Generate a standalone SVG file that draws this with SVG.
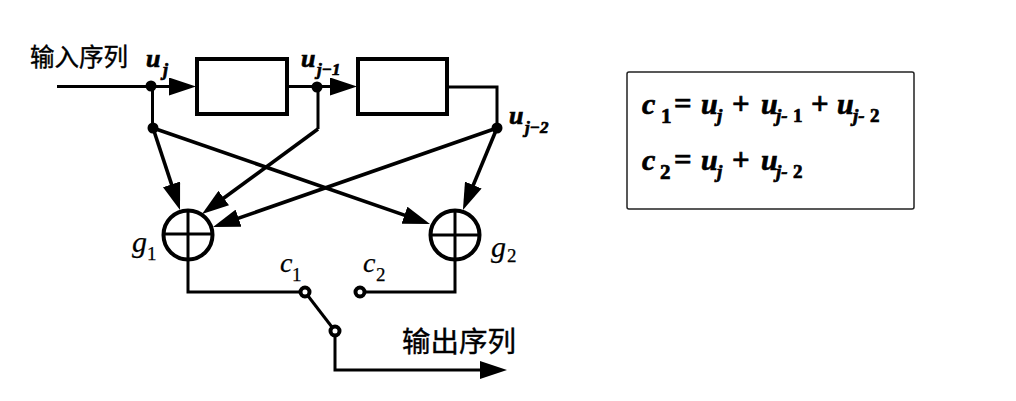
<svg xmlns="http://www.w3.org/2000/svg" width="1016" height="401" viewBox="0 0 1016 401">
<style>
.w{fill:none;stroke:#000;stroke-width:3;stroke-linejoin:miter}
.d{stroke-width:3.600}
.a{marker-end:url(#arrow)}
.box{fill:#fff;stroke:#000;stroke-width:4}
.sum{fill:#fff;stroke:#000;stroke-width:4}
.bar{stroke:#000;stroke-width:3;fill:none}
.dot{fill:#000}
.sw{fill:#fff;stroke:#000;stroke-width:4}
.zh{font-family:"Noto Sans CJK SC","Noto Sans",sans-serif;fill:#000;stroke:#000;stroke-width:.4}
.m{font-family:"Liberation Serif",serif;font-style:italic;fill:#000;stroke:#000;stroke-width:.25}
.b{font-weight:bold;stroke-width:.7}
.n{font-style:normal}
</style>
<defs>
<marker id="arrow" markerUnits="userSpaceOnUse" markerWidth="28" markerHeight="18" refX="19" refY="9" orient="auto">
<path d="M0 0L27 9L0 18z" fill="#000"/>
</marker>
</defs>
<rect width="1016" height="401" fill="#fff"/>
<g id="connectors">
<path class="w a" d="M57 86.500H188"/>
<path class="w a" d="M287 86.500H349"/>
<path class="w" d="M447 87H497V128"/>
<path class="w" d="M152.500 87V128"/>
<path class="w d a" d="M153 128L177.500 202.400"/>
<path class="w d a" d="M153 128L422.400 221.400"/>
<path class="w" d="M318 87V129"/>
<path class="w d a" d="M318 129L208.500 209.300"/>
<path class="w d a" d="M497 128L220.600 224.400"/>
<path class="w d a" d="M497 128L466 202.600"/>
<path class="w" d="M188 260V292H301"/>
<path class="w" d="M365 292H455V260"/>
<path class="w" d="M305 292L335 331"/>
<path class="w a" d="M335 335V370H499"/>
</g>
<g id="register1"><rect class="box" x="197" y="59" width="90" height="55"/></g>
<g id="register2"><rect class="box" x="358" y="59" width="89" height="55"/></g>
<g id="junctions">
<circle class="dot" cx="151" cy="86" r="5.500"/>
<circle class="dot" cx="153" cy="128" r="5.500"/>
<circle class="dot" cx="317" cy="87" r="5.500"/>
<circle class="dot" cx="497" cy="128" r="5.500"/>
</g>
<g id="g1-adder"><circle class="sum" cx="188" cy="235" r="24.500"/><path class="bar" d="M188 210V260"/><path class="bar" d="M163 234H213" stroke-width="3.500"/></g>
<g id="g2-adder"><circle class="sum" cx="455" cy="235" r="24.500"/><path class="bar" d="M455 210V260"/><path class="bar" d="M430 235H480" stroke-width="3.500"/></g>
<g id="switch">
<circle class="sw" cx="305" cy="292" r="4.500"/>
<circle class="sw" cx="360" cy="292" r="4.500"/>
<circle class="sw" cx="335" cy="331" r="4.500"/>
</g>
<g id="labels">
<text class="zh" x="30" y="66" font-size="24.500">输入序列</text>
<text class="zh" x="402" y="352" font-size="28.500">输出序列</text>
<text class="m b" x="146" y="67" font-size="26">u</text>
<text class="m b" x="163" y="76" font-size="18">j</text>
<text class="m b" x="301" y="67" font-size="26">u</text>
<text class="m b" x="317" y="75" font-size="17">j−1</text>
<text class="m b" x="509" y="124" font-size="26">u</text>
<text class="m b" x="525" y="133" font-size="17">j−2</text>
<text class="m" x="132" y="252" font-size="30">g</text>
<text class="m n" x="147" y="260" font-size="19">1</text>
<text class="m" x="280" y="272" font-size="28">c</text>
<text class="m n" x="292" y="281" font-size="19">1</text>
<text class="m" x="363" y="272" font-size="28">c</text>
<text class="m n" x="376" y="281" font-size="19">2</text>
<text class="m" x="491" y="257" font-size="30">g</text>
<text class="m n" x="507" y="262" font-size="19">2</text>
</g>
<g id="equations">
<rect x="627" y="72" width="287" height="137" rx="2" fill="#fff" stroke="#222" stroke-width="1.500"/>
<g font-size="30">
<text class="m b" x="642" y="114">c</text><text class="m b n" x="661" y="123" font-size="21">1</text>
<text class="m b n" x="674" y="114" font-size="31">=</text>
<text class="m b" x="701" y="114">u</text><text class="m b" x="717" y="122" font-size="19">j</text>
<text class="m b n" x="732" y="114" font-size="31">+</text>
<text class="m b" x="761" y="114">u</text><text class="m b" x="776" y="122" font-size="19">j-</text><text class="m b n" x="793" y="122" font-size="19">1</text>
<text class="m b n" x="811" y="114" font-size="31">+</text>
<text class="m b" x="837" y="114">u</text><text class="m b" x="853" y="122" font-size="19">j-</text><text class="m b n" x="870" y="122" font-size="19">2</text>
<text class="m b" x="642" y="170">c</text><text class="m b n" x="660" y="179" font-size="21">2</text>
<text class="m b n" x="674" y="170" font-size="31">=</text>
<text class="m b" x="701" y="170">u</text><text class="m b" x="717" y="178" font-size="19">j</text>
<text class="m b n" x="732" y="170" font-size="31">+</text>
<text class="m b" x="761" y="170">u</text><text class="m b" x="776" y="178" font-size="19">j-</text><text class="m b n" x="793" y="178" font-size="19">2</text>
</g>
</g>
</svg>
